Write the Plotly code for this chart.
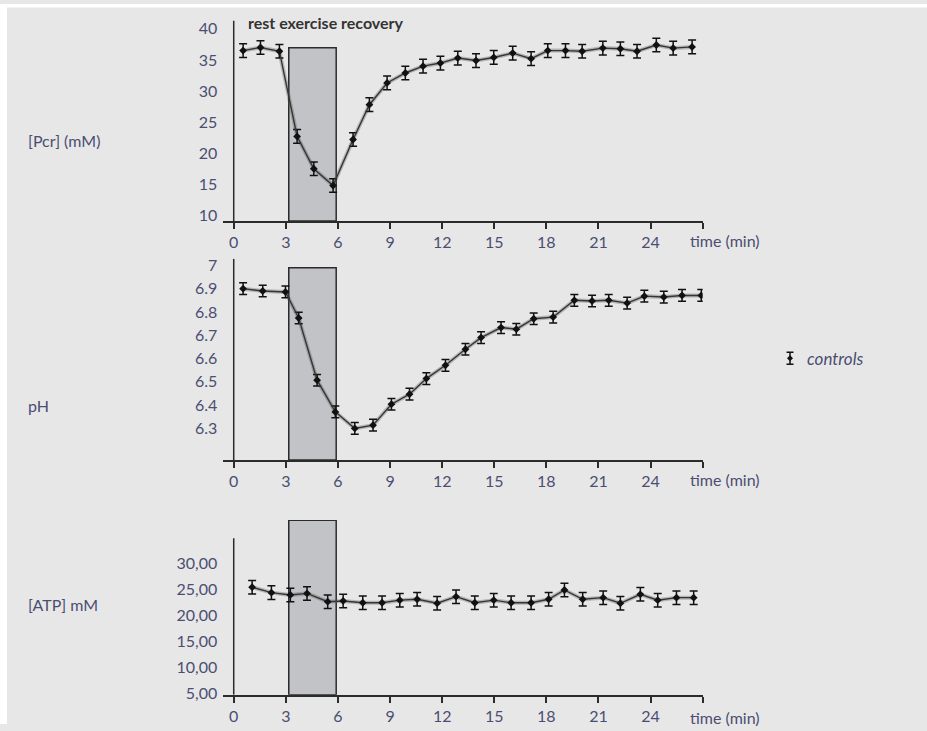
import plotly.graph_objects as go
from plotly.subplots import make_subplots

# ---------------- data ----------------
pcr_time = [0.54, 1.54, 2.63, 3.65, 4.61, 5.72, 6.87, 7.81, 8.83, 9.88, 10.9, 11.9, 12.9,
            13.95, 14.97, 16.06, 17.12, 18.08, 19.1, 20.06, 21.25, 22.26, 23.22, 24.33, 25.3, 26.39]
pcr_mean = [36.5, 37.0, 36.4, 22.7, 17.5, 14.8, 22.2, 27.8, 31.3, 32.9, 34.0, 34.5, 35.3,
            34.9, 35.4, 36.1, 35.2, 36.5, 36.5, 36.4, 36.9, 36.8, 36.4, 37.4, 36.9, 37.1]
pcr_err = [1.1] * len(pcr_mean)

ph_time = [0.54, 1.67, 2.98, 3.74, 4.8, 5.85, 6.97, 8.02, 9.08, 10.12, 11.09, 12.19, 13.34,
           14.24, 15.39, 16.27, 17.27, 18.39, 19.61, 20.63, 21.59, 22.65, 23.64, 24.76, 25.81, 26.92]
ph_mean = [6.90, 6.89, 6.886, 6.774, 6.507, 6.371, 6.30, 6.314, 6.404, 6.447, 6.514, 6.571, 6.64,
           6.69, 6.733, 6.726, 6.771, 6.778, 6.85, 6.847, 6.85, 6.838, 6.868, 6.864, 6.871, 6.871]
ph_err = [0.025] * len(ph_mean)

atp_time = [1.06, 2.17, 3.26, 4.22, 5.41, 6.3, 7.43, 8.54, 9.56, 10.56, 11.71, 12.8, 13.88,
            14.97, 15.97, 17.12, 18.13, 19.04, 20.09, 21.27, 22.26, 23.41, 24.41, 25.49, 26.48]
atp_mean = [25.4, 24.35, 23.9, 24.2, 22.6, 22.75, 22.4, 22.4, 22.9, 23.07, 22.3, 23.57, 22.4,
            22.9, 22.4, 22.4, 23.07, 24.86, 23.07, 23.38, 22.3, 24.03, 22.9, 23.38, 23.38]
atp_err = [1.3] * len(atp_mean)

exercise_window = [3.17, 5.9]
box_tops = [36.95, 6.99, 38.3]

x_tickvals = [0, 3, 6, 9, 12, 15, 18, 21, 24, 27]
x_ticktext = ["0", "3", "6", "9", "12", "15", "18", "21", "24", ""]
pcr_ticks = [10, 15, 20, 25, 30, 35, 40]
ph_ticks = [6.3, 6.4, 6.5, 6.6, 6.7, 6.8, 6.9, 7.0]
ph_ticktext = ["6.3", "6.4", "6.5", "6.6", "6.7", "6.8", "6.9", "7"]
atp_ticks = [5, 10, 15, 20, 25, 30]
atp_ticktext = ["5,00", "10,00", "15,00", "20,00", "25,00", "30,00"]

panel_labels = ["[Pcr] (mM)", "pH", "[ATP] mM"]
legend_name = "controls"
title_text = "rest exercise recovery"
x_title = "time (min)"

# ---------------- style ----------------
BG = "#e7e7e7"
INK = "#2b2b2b"
TXT = "#4b4e72"
FONT = "Lato, Roboto, sans-serif"

W, H = 927, 731
Y_OFF, Y_SCALE = 3.4, 0.986   # empirical correction of vertical placement


def py(p):  # reference pixel y (from top) -> paper fraction
    return 1 - ((p - Y_OFF) / Y_SCALE) / H


def px(p):
    return p / W


fig = make_subplots(rows=3, cols=1)

panels = [
    (pcr_time, pcr_mean, pcr_err, 1),
    (ph_time, ph_mean, ph_err, 2),
    (atp_time, atp_mean, atp_err, 3),
]
for t, m, e, r in panels:
    fig.add_trace(go.Scatter(x=t, y=m, mode="lines", showlegend=False, hoverinfo="skip",
                             line=dict(color="rgba(90,90,90,0.35)", width=4)), row=r, col=1)
    fig.add_trace(go.Scatter(x=t, y=m, mode="lines+markers", showlegend=False,
                             name=legend_name,
                             line=dict(color="#363636", width=1.4),
                             marker=dict(symbol="diamond", size=6, color="#111"),
                             error_y=dict(type="data", array=e, visible=True,
                                          color="#111", thickness=1.5, width=4)),
                  row=r, col=1)

xdom = [px(223.3), px(702.7)]
yranges = [[9.085, 41.33], [6.164, 7.029], [4.67, 38.32]]
ydoms = [[py(220.7), py(20)], [py(460), py(258.3)], [py(695), py(520)]]
yaxis_tops = [41.33, 7.029, 34.8]

common_x = dict(range=[-0.6, 27], domain=xdom, showgrid=False, zeroline=False,
                showline=True, linecolor=INK, linewidth=1.5,
                ticks="outside", ticklen=6, tickwidth=1.5, tickcolor=INK,
                tickvals=x_tickvals, ticktext=x_ticktext,
                tickfont=dict(family=FONT, size=16, color=TXT))
for i in range(3):
    fig.update_xaxes(row=i + 1, col=1, **common_x)

ytick_specs = [
    (pcr_ticks, [str(v) for v in pcr_ticks]),
    (ph_ticks, ph_ticktext),
    (atp_ticks, atp_ticktext),
]
for i in range(3):
    fig.update_yaxes(row=i + 1, col=1, range=yranges[i], domain=ydoms[i],
                     showgrid=False, zeroline=False, showline=False, ticks="",
                     ticklabelstandoff=5,
                     tickvals=ytick_specs[i][0], ticktext=ytick_specs[i][1],
                     tickfont=dict(family=FONT, size=16, color=TXT))

shapes = []
# white strips at top and left (scan border)
shapes.append(dict(type="rect", xref="paper", yref="paper", x0=0, x1=1, y0=py(7), y1=1,
                   fillcolor="white", line=dict(width=0), layer="below"))
shapes.append(dict(type="rect", xref="paper", yref="paper", x0=0, x1=px(7), y0=0, y1=1,
                   fillcolor="white", line=dict(width=0), layer="below"))
for i in range(3):
    xr = "x" if i == 0 else f"x{i+1}"
    yr = "y" if i == 0 else f"y{i+1}"
    shapes.append(dict(type="rect", xref=xr, yref=yr,
                       x0=exercise_window[0], x1=exercise_window[1],
                       y0=yranges[i][0], y1=box_tops[i],
                       fillcolor="#c2c3c7", line=dict(color=INK, width=1.5), layer="below"))
    shapes.append(dict(type="line", xref=xr, yref=yr, x0=0, x1=0,
                       y0=yranges[i][0], y1=yaxis_tops[i],
                       line=dict(color=INK, width=1.5), layer="above"))

# legend glyph (error-bar marker) drawn manually
lx, ly = 790, 358
shapes.append(dict(type="line", xref="paper", yref="paper", x0=px(lx), x1=px(lx),
                   y0=py(ly - 6), y1=py(ly + 6), line=dict(color="#111", width=1.5)))
for dy in (-6, 6):
    shapes.append(dict(type="line", xref="paper", yref="paper", x0=px(lx - 3.5), x1=px(lx + 3.5),
                       y0=py(ly + dy), y1=py(ly + dy), line=dict(color="#111", width=1.5)))
shapes.append(dict(type="path", xref="paper", yref="paper",
                   path=f"M {px(lx - 3)} {py(ly)} L {px(lx)} {py(ly - 3)} L {px(lx + 3)} {py(ly)} "
                        f"L {px(lx)} {py(ly + 3)} Z",
                   fillcolor="#111", line=dict(width=0)))

annotations = []
annotations.append(dict(text=f"<b>{title_text}</b>", xref="paper", yref="paper",
                        x=px(246), y=py(22), xanchor="left", yanchor="middle", showarrow=False,
                        font=dict(family=FONT, size=16, color="#333")))
for yp in [240, 479, 718]:
    annotations.append(dict(text=x_title, xref="paper", yref="paper",
                            x=px(725), y=py(yp), xanchor="center", yanchor="middle",
                            showarrow=False, font=dict(family=FONT, size=16, color=TXT)))
for lbl, yp in zip(panel_labels, [140, 405, 605]):
    annotations.append(dict(text=lbl, xref="paper", yref="paper", x=px(26), y=py(yp),
                            xanchor="left", yanchor="middle", showarrow=False,
                            font=dict(family=FONT, size=16, color=TXT)))
annotations.append(dict(text=f"<i>{legend_name}</i>", xref="paper", yref="paper",
                        x=px(805), y=py(ly), xanchor="left", yanchor="middle", showarrow=False,
                        font=dict(family=FONT, size=17, color=TXT)))

fig.update_layout(
    width=W, height=H,
    margin=dict(l=0, r=0, t=0, b=0),
    paper_bgcolor=BG, plot_bgcolor="rgba(0,0,0,0)",
    shapes=shapes, annotations=annotations,
    showlegend=False,
)

post = (
    "document.documentElement.style.margin='0';"
    "document.documentElement.style.background='%s';"
    "document.body.style.margin='0';"
    "document.body.style.background='%s';"
    "document.documentElement.style.overflow='hidden';"
    "document.body.style.overflow='hidden';"
    "var gd=document.getElementById('{plot_id}');"
    "Plotly.relayout(gd,{width:window.innerWidth,height:window.innerHeight});"
) % (BG, BG)

fig.write_html("out.html", config={"displayModeBar": False}, post_script=post)
